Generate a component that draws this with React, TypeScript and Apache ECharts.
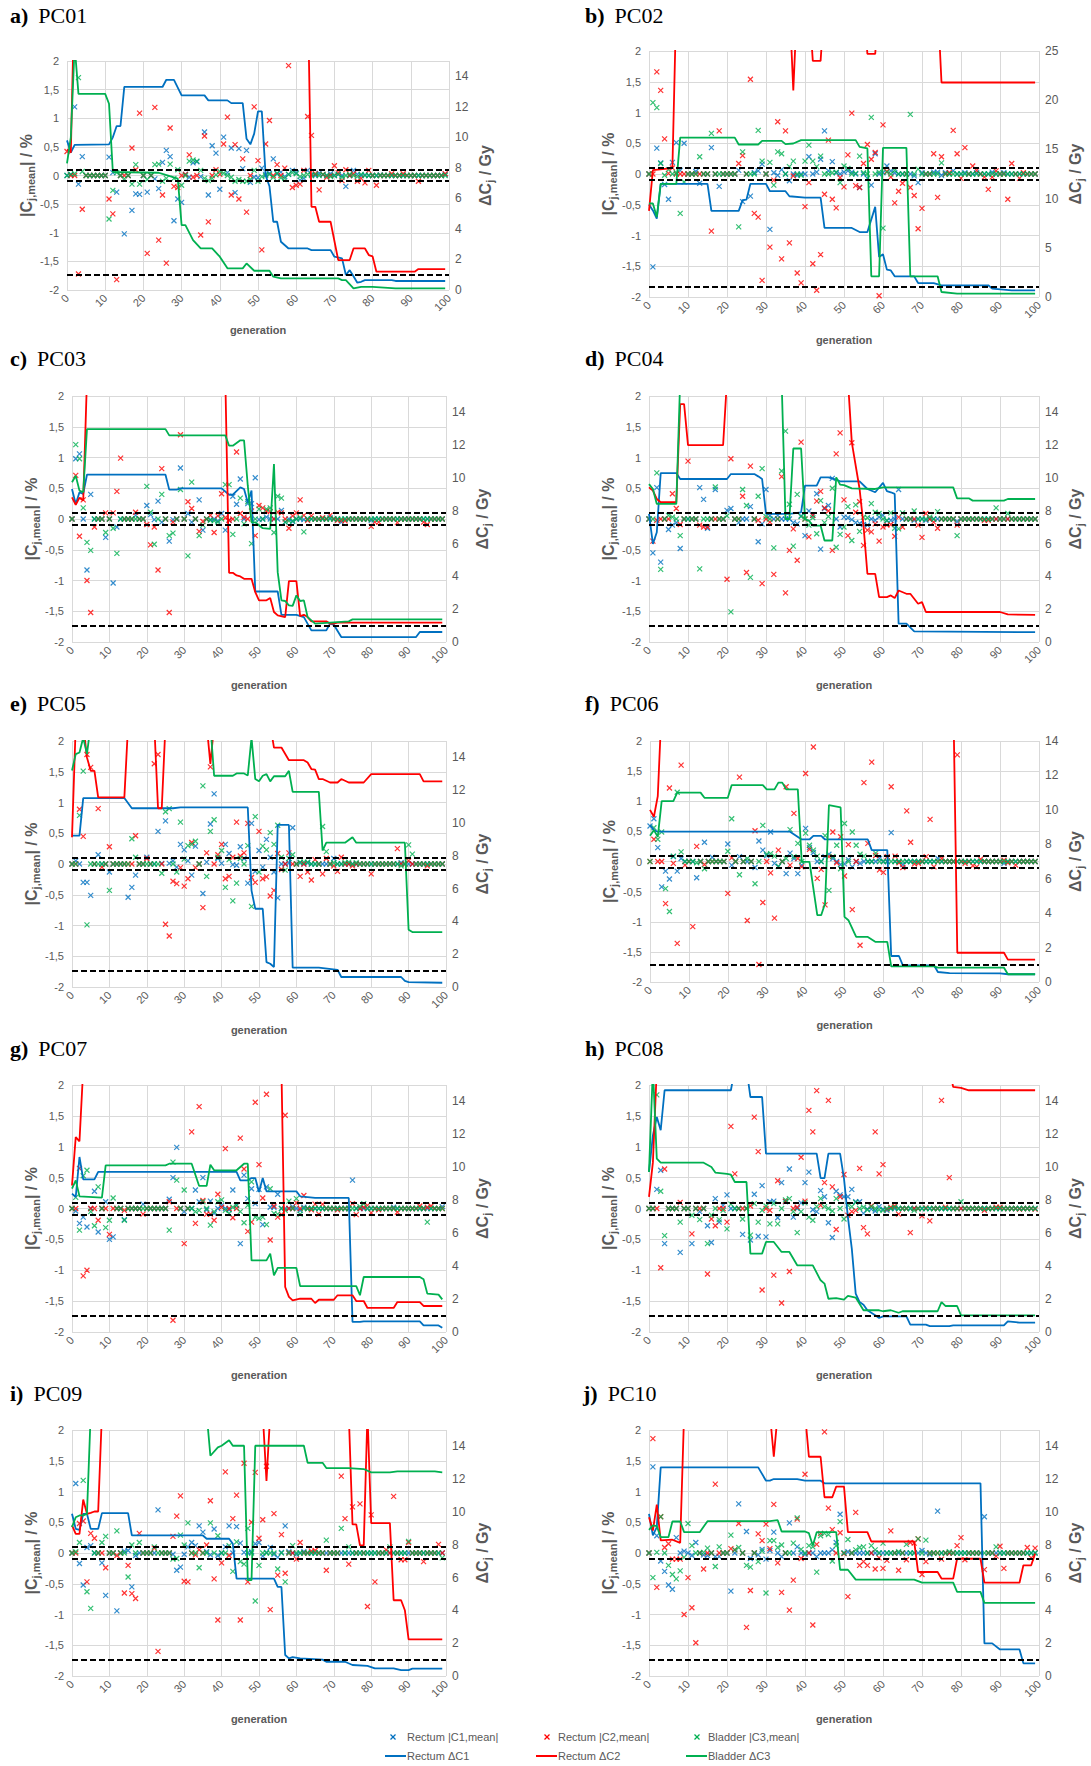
import React, { useEffect, useRef } from 'react';
import * as echarts from 'echarts';

// ---------- colours ----------
const BLUE = '#0070C0';
const RED = '#FF0000';
const GREEN = '#00B050';
const GREY = '#595959';

// ---------- threshold values ----------
const limitsPercent = [0.1, -0.1];
const limitGy = 1;

// ---------- x tick labels ----------
const generationTicks = [0, 10, 20, 30, 40, 50, 60, 70, 80, 90, 100];

// ================= PC01 =================
const pc01C1 = [0,0.02,1.2,-0.15,0.33,0,0,0,0,0, 0,0.32,0.05,-0.29,0,-1.02,0,-0.61,-0.32,-0.33, 0,-0.29,0,-0.06,-0.23,0.23,0.44,0.33,-0.79,-0.41, -0.47,0.02,-0.03,0.22,0.24,-0.02,0.76,-0.34,0.52,0.39, -0.24,0.67,0.05,0.48,-0.3,0.47,0.12,0.44,-0.12,-0.03, -0.04,0.13,0.02,0.04,0.29,0.03,0.06,-0.02,0.02,0.09, 0.05,-0.08,-0.05,0.09,0.02,0,0.04,0.01,0,0.03, 0,0.02,0,-0.19,0,0.09,0.02,0,0.01,0, 0,0,0.01,0,0,0,0,0,0,0, 0,0,0,0,0,0,0,0,0,0.02];
const pc01C2 = [0.42,0,0,-1.72,-0.59,0,0,0,0,0, 0,-0.41,-0.67,-1.82,0,0,0,0.48,0.1,1.09, 0,-1.36,0,1.19,-1.13,-0.34,-1.53,0.83,-0.19,-0.21, 0,0.02,0.36,-0.03,0,-1.04,0.69,-0.81,0,0.1, 0.02,0.55,1.02,-0.34,0.54,-0.41,0.29,-0.64,0,1.2, 0.26,-1.3,0.55,0.96,0,0.19,0,0.13,1.92,-0.21, -0.17,-0.15,0.09,1.03,0.7,0.03,-0.25,0.02,-0.03,0, 0.17,0.05,-0.09,0.1,0,0.03,-0.1,-0.05,-0.13,0.09, 0,-0.17,0,0,0,0.03,0,0,0.03,0, 0,0,-0.1,0,0,0,0,0,0,0.03];
const pc01C3 = [0,0.02,0.03,1.71,0.07,0,0,0,0,0, 0,-0.76,-0.26,0.05,0,-0.06,0,-0.15,0.19,-0.15, 0,-0.07,0,0.19,0.2,-0.1,-0.05,0.2,-0.05,0.1, -0.17,0,0.25,0.27,0.25,0.09,-0.05,-0.09,-0.05,0.01, 0.07,0.04,0,-0.03,-0.1,-0.07,-0.1,-0.1,-0.07,0.09, -0.1,-0.02,0,0.02,-0.03,0.04,-0.04,-0.05,0.02,0.05, 0.03,-0.02,0,0.02,0,0.02,0,0.02,0,-0.02, 0,0.02,-0.03,0,0.02,0,-0.02,0.02,0,0, 0,0,0,0,0,0,0,0,0,0, 0,0,0,0,0,0,0,0,0,0];
const pc01D1 = [[0,9.8],[1,9.0],[2,9.5],[11,9.54],[12,10.0],[13,10.74],[14,10.74],[15,13.3],[25,13.3],[26,13.77],[28,13.77],[30,12.75],[36,12.75],[37,12.42],[42,12.42],[43,12.24],[46,12.24],[47,9.9],[48,9.54],[49,10.24],[50,11.7],[51,11.7],[52,7.5],[53,6.8],[54,4.47],[55,4.47],[56,3.16],[58,2.72],[63,2.72],[64,2.61],[69,2.61],[70,2.18],[72,2.07],[73,0.98],[74,1.3],[75,0.9],[76,0.48],[77,0.54],[78,0.65],[85,0.65],[86,0.59],[99,0.59]];
const pc01D2 = [[0,9.2],[1,9.0],[2,20],[63,20],[64,5.45],[65,5.45],[66,4.47],[69,4.47],[71,1.96],[74,1.96],[75,2.72],[78,2.72],[79,2.29],[80,2.2],[81,1.2],[91,1.2],[92,1.37],[99,1.37]];
const pc01D3 = [[0,8.3],[1,10],[2,16],[3,12.85],[10,12.85],[11,12.2],[12,7.73],[24,7.68],[25,7.6],[29,7.3],[30,4.25],[31,4.25],[33,3.27],[35,2.72],[38,2.72],[40,2.18],[42,1.42],[46,1.42],[47,1.74],[49,1.26],[53,1.26],[54,0.87],[56,0.76],[71,0.76],[72,0.65],[73,0.65],[75,0.1],[77,0.2],[80,0.2],[83,0.15],[86,0.1],[99,0.1]];

// ================= PC02 =================
const pc02C1 = [0,-1.51,0.42,0.18,-0.17,-0.41,0.19,0.51,0.06,0.5, 0,0,0.04,-0.15,0,0,0.43,0,-0.2,0, 0,0,0,0.06,-0.45,0,-0.36,0.02,0.05,0.16, 0,-0.9,0.02,-0.02,0.07,0,-0.11,0,-0.02,0, 0,0.28,0,0.03,0.24,0.7,0.05,0.2,0.02,0, 0.03,0.05,0.03,0,-0.22,0,-0.07,-0.18,0.33,0, 0.02,0.13,0.05,0.02,0,0,0,0,-0.03,-0.14, 0.02,0,0,0.03,0.03,-0.02,0.02,0,0.05,0, 0,0.02,0,0,0.02,0,0,0,0.03,0, 0,0.02,0,0,0,0,0,0,0,0];
const pc02C2 = [0,0,1.66,1.36,0.57,0.01,0.1,0,0,0, 0,0,0,0,0,0,-0.93,0,0.7,0, 0,0,0,0.17,0.3,0,1.54,-0.64,-0.7,-1.73, 0,-1.19,-0.1,0.85,-1.38,0.7,-1.12,-0.03,-1.61,-1.77, -0.53,-0.14,-1.46,-1.89,-1.31,-0.33,0.55,-0.41,-0.55,-0.06, -0.21,0.31,0.99,-0.19,-0.22,0.17,0.48,0.24,0.35,-1.98, 0.8,0.04,-0.05,-0.47,-0.28,-0.15,0,-0.22,-0.35,-0.89, -0.56,0,0,0.33,-0.38,0.28,0,0.02,0.71,0.33, -0.07,0.43,0,0.13,0.06,0,-0.05,-0.25,-0.05,0.05, 0,0,-0.41,0.17,0,-0.07,0.02,0,0,0];
const pc02C3 = [0,1.16,1.08,0.17,-0.02,0.07,0,0.02,-0.64,-0.13, 0,0,0,0.28,0,0,0.66,0,0,0, 0,0,0,-0.86,0.36,0,0,0,0.71,0.21, 0,0.19,-0.18,0.36,0.33,0,0.12,0.21,0,-0.02, 0.21,0.47,0.21,0.12,0.29,0,0,0.02,0.03,-0.14, 0.13,0.09,0,0.01,0.29,0.02,0,0.92,0,0.03, -0.88,0.03,0,0.06,0,0,0,0.97,0,0.08, 0,0,0,0,0,0.18,0,0,0,0, 0,0,0,0,0,0,0,0,0,0, 0,0,0,0,0,0,0,0,0,0];
const pc02D1 = [[0,9.4],[1,8.8],[2,7.97],[3,11.5],[15,11.5],[16,8.75],[23,8.75],[24,9.84],[25,9.9],[26,11.5],[30,11.5],[31,10.75],[35,10.75],[36,10.24],[40,10.1],[44,10.1],[45,7.02],[52,7.02],[54,6.6],[56,6.6],[58,9.16],[59,4.07],[60,4.34],[61,2.78],[62,2.7],[63,2.1],[68,2.1],[69,1.42],[73,1.42],[75,1.19],[87,1.19],[88,0.85],[93,0.68],[99,0.68]];
const pc02D2 = [[0,8.75],[1,12.9],[6,13.1],[7,30],[36,30],[37,21],[38,30],[41,30],[42,24],[44,24],[45,30],[55,30],[56,24.7],[58,24.7],[59,30],[74,30],[75,21.8],[99,21.8]];
const pc02D3 = [[0,9.5],[1,9.5],[2,8.14],[3,11.5],[7,11.5],[8,16.2],[22,16.2],[23,15.5],[28,15.5],[29,15.87],[34,15.87],[35,15.54],[37,15.6],[39,15.94],[53,15.94],[54,15.26],[56,15.1],[57,2.1],[59,2.1],[60,15.16],[66,15.16],[67,2.1],[74,2.1],[75,0.51],[79,0.34],[99,0.34]];

// ================= PC03 =================
const pc03C1 = [0,0.98,1.06,0,-0.83,0.4,0,0,0,-0.3, 0,-1.04,-0.13,0,0,0,0,0.06,0,0, 0.22,0.07,-0.01,0.29,-0.05,0,-0.36,-0.01,0,0.83, 0,0.09,-0.05,0,0.31,-0.18,0,-0.01,0,-0.03, 0.09,-0.18,-0.02,0.37,0.24,0.65,0,0.25,0.25,0.67, -0.01,0,0.03,0,0,0,0.14,-0.05,0,-0.04, 0,0,-0.01,0,0,0,0,0,0,0.02, 0,0,-0.05,0,0,0,0,0,0,0, -0.02,0,0,0,0,0,0,0,0,0, 0,0,0,0,0,0,0,0,0,0];
const pc03C2 = [0,0.71,-0.28,0.31,-1.0,-1.52,-0.13,0,0,0.1, 0,0.1,0.45,0.99,0,0,0,0.11,0,0, -0.09,-0.42,-0.13,-0.83,0.82,0,-1.52,-0.05,0,1.37, 0,0.28,0.17,0,-0.2,-0.04,0,0.06,-0.22,0.05, 0.41,0.02,-0.02,0,1.09,0.09,0.03,0,0.13,-0.27, 0.22,0.18,0.13,0.12,0,0.11,0.1,0,-0.15,0.05, 0.1,0.31,0.06,-0.02,0.05,0,0,0.02,0,0.06, 0,-0.02,-0.02,-0.03,0,0,0,0,0,0, -0.12,-0.05,-0.05,0,0,0,0,-0.06,0,0, 0,0,0,0,-0.05,-0.09,0,0,0,0];
const pc03C3 = [0,1.21,0.98,0.18,-0.38,-0.51,0,0,0,-0.22, 0,-0.15,-0.56,0,0,0,0,0,0,0, 0.53,0.11,-0.41,0,0.4,0,-0.27,-0.23,0,0.48, 0,-0.6,0.6,0,-0.27,-0.1,0,-0.02,-0.03,-0.05, 0,0.56,0.56,-0.25,0,0.34,-0.08,0.28,-0.4,0, 0.16,0,0.16,0.18,-0.22,0.37,0.34,-0.05,-0.03,-0.03, 0,0.02,-0.21,0,0,0,0,0,0,0, 0,0,0,0,0,0,0,0,0,0, 0,0,0,0,0,0,0,0,0,0, 0,0,0,0,0,0,0,0,0,0];
const pc03D1 = [[0,9.33],[1,8.42],[2,9.13],[3,9.03],[4,10.2],[25,10.2],[26,9.29],[28,9.29],[29,9.37],[40,9.37],[42,8.98],[43,8.98],[45,9.43],[46,9.33],[47,8.5],[48,9.23],[49,3.08],[55,3.08],[56,1.66],[60,1.66],[62,1.52],[64,0.71],[68,0.71],[69,1.12],[70,1.05],[72,0.3],[92,0.3],[93,0.61],[99,0.61]];
const pc03D2 = [[0,8.82],[1,8.36],[2,8.8],[3,8.62],[4,16],[41,16],[42,4.22],[43,4.22],[44,4.06],[45,4.0],[46,3.85],[48,3.85],[49,3.04],[50,2.54],[52,2.54],[53,2.68],[54,1.83],[55,1.62],[57,1.52],[58,3.71],[60,3.71],[61,1.58],[62,1.66],[63,1.52],[64,1.26],[68,1.26],[69,1.12],[70,1.12],[71,1.18],[99,1.18]];
const pc03D3 = [[0,9.74],[1,10.14],[2,9.23],[3,9.13],[4,12.98],[25,12.98],[26,12.6],[41,12.6],[42,11.97],[43,11.97],[45,12.3],[46,12.3],[47,9.53],[48,7.3],[49,7.3],[51,6.94],[53,6.9],[54,10.85],[55,4.26],[56,2.54],[57,2.5],[58,2.23],[59,2.2],[60,2.84],[61,2.5],[62,2.54],[63,1.52],[65,1.12],[70,1.2],[74,1.26],[75,1.38],[99,1.38]];

// ================= PC04 =================
const pc04C1 = [0,-0.55,0.51,-0.7,0,-0.17,-0.1,-0.06,-0.48,0, 0,0,0,0.51,0.32,-0.15,0,0.48,0,0, 0.14,0.17,0,-0.06,0,0,0.2,0,-0.37,-0.08, 0.48,0.05,0,0.06,0,0,0,-0.06,-0.08,0.05, -0.27,0.13,0.06,0.41,-0.49,0.17,0.22,0.66,0,-0.13, 0.03,0.02,-0.01,-0.06,-0.07,-0.09,-0.1,0,-0.02,0.03, 0.06,-0.03,-0.02,0,0.48,0,0,0,-0.02,0, 0,-0.02,0,0,0,0,0,0,0,-0.04, 0,0,0,0,0,0,0,0,0,0, 0,0,0,0,0,0,0,0,0,0];
const pc04C2 = [0,-0.36,-0.02,0,0,0,0.41,0.17,-0.09,0, 0.94,0,0,-0.1,-0.13,-0.13,0,0,0,0, -0.98,0.98,0,0,0.37,-0.87,0.86,0,-0.02,-1.05, 0,-0.05,-0.9,0,0.69,-1.2,-0.51,-0.16,-0.67,1.25, 0,-0.29,0.06,0.29,0.45,0.18,0.13,-0.51,1.06,1.4, 0.31,-0.27,1.24,0.11,0.28,-0.43,-0.18,-0.21,-0.08,-0.36, -0.13,-0.1,-0.09,-0.28,0.03,-0.13,0,0,0,-0.1, -0.3,0.09,0,-0.05,-0.15,0,0,0,0,-0.1, 0,0,0,0,0,0,-0.02,-0.02,0,0, 0,0,0,0,0,0,0,0,0,0];
const pc04C3 = [0,0,0.75,-0.82,0,0.06,0.03,0,-0.27,0, 0,0,0,-0.81,0,0,0,0.52,0,0, 0.05,-1.51,0,0,0.48,0.22,-0.95,0,0.37,0.82, 0.04,0,-0.47,0,0.78,1.43,0.24,-0.44,0.4,0.04, 0,-0.1,0.02,-0.24,0.3,-0.06,0.04,0.5,-0.46,-0.25, -0.13,0.2,-0.35,0.23,-0.2,0.03,0.02,0.25,0.11,0.09, 0,-0.02,0.1,-0.15,-0.16,0.1,0,0,0.13,0, 0,0,0.03,0,0.12,0,0,0,0,-0.27, 0,0,0,0,0,0,0,0,0,0.18, 0,0,0.09,0,0,0,0,0,0,0];
const pc04D1 = [[0,7.81],[1,5.98],[2,6.69],[3,10.3],[7,10.3],[8,9.94],[20,9.94],[21,10.24],[27,10.24],[28,10.1],[29,9.94],[30,7.81],[36,7.81],[39,7.9],[40,9.53],[43,9.53],[44,10.04],[46,10.04],[48,9.9],[49,9.8],[54,9.8],[56,9.33],[58,9.13],[60,9.7],[61,9.2],[62,9.13],[63,9.03],[64,1.12],[66,1.12],[68,0.65],[99,0.6]];
const pc04D2 = [[0,9.43],[1,9.23],[2,8.72],[3,8.52],[7,8.52],[8,14.5],[9,14.5],[10,12.0],[19,12.0],[20,16],[51,16],[52,12.17],[54,9.33],[55,7.1],[56,4.16],[58,4.16],[59,2.74],[61,2.74],[62,2.84],[63,2.68],[64,3.14],[66,2.94],[67,2.94],[69,2.33],[70,2.43],[71,1.83],[90,1.83],[92,1.68],[99,1.66]];
const pc04D3 = [[0,9.63],[1,9.33],[2,8.42],[7,8.42],[8,16],[34,16],[35,7.5],[36,7.5],[37,11.8],[39,11.8],[40,7.5],[41,7.4],[42,7.1],[44,7.1],[45,6.19],[47,6.19],[48,10.04],[49,9.6],[50,9.57],[52,9.37],[58,9.33],[60,9.43],[78,9.43],[79,8.76],[82,8.76],[83,8.62],[91,8.62],[92,8.72],[99,8.72]];

// ================= PC05 =================
const pc05C1 = [0,0.05,0,-0.3,-0.3,-0.51,0,0.15,0,0, -0.13,0,0,0,0,-0.54,-0.38,-0.18,0,0, 0.11,0,0,0.53,0.01,0.7,0.01,0.05,-0.05,0.32, 0.23,0.05,-0.18,0.29,0,-0.48,0.03,0.65,1.14,0.09, 0.01,0.32,0.17,-0.01,-0.02,0.28,0.09,-0.31,0.66,-0.12, 0.22,-0.05,0.4,0.11,-0.13,-0.55,0,0,0.02,0.59, 0,0.02,0,0.02,0,0,0,0,0,0, 0.09,0,0,0,0,0,0,0,0,0, 0,0,0,0,0,0,0,0,0.02,0, 0,0,0,0,0,0,0,0,0,0];
const pc05C2 = [0,0,0.89,0.45,1.78,1.57,0,0.9,-0.05,0, 0.28,0,0,0,0,0,0,0.46,0,0, 0.09,0,1.63,1.78,0,-0.98,-1.17,-0.28,-0.32,-0.06, -0.36,-0.24,0.35,-0.06,0,-0.71,0.18,1.58,0,0.15, 0.32,-0.24,-0.2,0.11,0.68,0.13,0.18,0.66,-0.22,-0.3, 0.53,-0.24,-0.21,-0.52,-0.43,0.17,-0.09,0,0.18,0, 0,-0.2,0,-0.13,-0.26,0.07,0,-0.16,0.09,0, -0.03,-0.12,0.11,0,0,-0.03,0,0,0,0, -0.16,0,0,0,0,0,0,0.25,0,0, 0.05,0,0,0,0,-0.03,0,0,0,0];
const pc05C3 = [0,0,0.79,1.51,-0.99,0,0,0,0,0, -0.43,0,0,0,0,0,0.41,0.11,0,0, 0,0,0,0,-0.15,0.85,0.9,0,-0.13,0.68, 0.08,0.3,0.32,0.37,0,1.27,-0.2,0.53,0.72,0.11, 0.22,-0.38,0.07,-0.6,-0.31,0.09,0,0.3,-0.69,0.77, -0.13,0.29,0.23,0.51,0.32,0.63,0.11,-0.1,0.09,0.15, 0,0.03,0.03,0.03,0,0,0,0.61,0.2,0, 0.02,0,0,0.02,0.03,0,0.02,0,0,0, 0,0,0,0,0,0,0,0,-0.03,0, 0.31,0.16,0,0,0,0,0,0,0,0];
const pc05D1 = [[0,9.23],[2,9.23],[3,11.52],[14,11.52],[16,10.9],[27,10.9],[29,10.95],[47,10.95],[48,5.88],[49,4.77],[51,4.77],[52,1.52],[53,1.42],[54,1.22],[55,9.88],[58,9.88],[59,1.18],[66,1.18],[71,1.05],[72,0.61],[88,0.61],[89,0.37],[90,0.3],[99,0.26]];
const pc05D2 = [[0,9.13],[1,16],[3,16],[4,14.0],[5,13.18],[6,13.18],[7,11.56],[14,11.56],[15,16],[22,16],[23,10.9],[24,10.9],[25,16],[36,16],[37,13.6],[38,16],[53,16],[54,14.6],[56,14.6],[58,13.83],[62,13.83],[63,13.69],[64,13.29],[65,13.25],[66,12.68],[67,12.68],[69,12.47],[71,12.47],[72,12.68],[74,12.47],[78,12.47],[80,12.98],[93,12.98],[94,12.54],[99,12.54]];
const pc05D3 = [[0,13.2],[1,14.2],[2,14.3],[3,15.2],[4,14.2],[5,16],[37,16],[38,12.88],[43,12.88],[44,13.02],[46,13.02],[47,12.9],[48,15.2],[49,12.68],[50,12.54],[51,12.88],[52,12.98],[53,12.54],[54,12.85],[57,12.85],[58,13.18],[59,11.9],[66,11.9],[67,8.32],[68,8.8],[73,8.8],[75,9.13],[76,8.8],[89,8.8],[90,3.49],[91,3.35],[99,3.35]];

// ================= PC06 =================
const pc06C1 = [0.59,0.71,0.23,-0.42,-0.16,-0.29,0.08,-0.16,0.05,0, 0,0,-0.27,0,0.32,0,0.07,0,0,0, 0.29,-0.06,0,0.08,0,0,0,-0.1,0.34,0.19, 0.1,0.49,-0.03,-0.08,0,-0.2,0.14,0.05,-0.2,-0.06, 0.55,0.23,0.15,0,0,0.08,0.12,0.05,0,-0.05, -0.04,0.03,-0.09,0,-0.03,0,0,0,0,0.05, 0,0,0.48,0,0,-0.05,0,0,0,0, 0,0,0,0,0.05,0,0,0,0,0, 0,0,0,0,0,0,0,0,0,0, 0,-0.03,0,0,0,0,0,0,0,0];
const pc06C2 = [0,0.37,0,0,-0.7,1.22,-0.03,-1.36,1.6,-0.06, 0,-1.08,0.25,0,-0.05,0,0,0,0,0, -0.53,0.06,0,1.4,0,-0.98,0,0.51,-1.71,-0.68, 0,-0.19,-0.94,0.19,0,1.24,-0.06,0.8,0.05,-0.09, 1.46,0.2,1.9,-0.28,-0.13,-0.72,0.08,0.49,-0.02,0.41, -0.24,0.28,-0.8,0,-1.39,1.31,0.3,1.65,0.1,-0.14, -0.18,0.08,1.24,0.09,-0.02,-0.1,0.84,0.32,-0.04,-0.03, 0,0.08,0.7,-0.09,0,0.05,0,0,0,1.77, 0,-0.03,0,-0.07,-0.09,0.04,0,0,0,0, 0,0.02,-0.02,0,-0.06,0,0,0,0,0];
const pc06C3 = [0,0.56,0.37,0.49,-0.45,-0.83,0.09,1.15,0.16,0, 0,0,-0.02,0,-0.12,0,0,0,0,0, 0.17,0.71,0,-0.22,0,0.05,0,-0.37,0,0.6, 0.12,0.13,0.09,-0.08,0,0.05,0.53,0.08,0.3,0, 0.47,0.27,0.19,0.09,0,0.43,-0.48,0.08,0.27,-0.12, 0.63,0,0.49,0.27,0.12,0.09,0,0,0.14,0, 0,0,0,0,0,0,0,0,0,0, 0,0,0,0,0,0,0,0,0,0, 0,0,0,0,0,0,0,0,0,0, 0,0,0,0,0,0,0,0,0,0];
const pc06D1 = [[0,9.11],[1,8.82],[2,8.73],[36,8.73],[39,8.28],[41,8.28],[42,8.49],[44,8.49],[45,8.28],[56,8.28],[57,7.66],[61,7.66],[62,1.51],[64,1.51],[65,0.97],[73,0.97],[74,0.58],[77,0.52],[90,0.5],[92,0.45],[99,0.45]];
const pc06D2 = [[0,10],[1,9.6],[2,10.8],[3,16],[78,16],[79,1.7],[91,1.7],[92,1.3],[99,1.3]];
const pc06D3 = [[0,8.49],[1,8.82],[2,8.43],[3,10.51],[6,10.51],[7,11.0],[13,11.0],[14,10.7],[20,10.7],[21,11.44],[29,11.44],[30,11.19],[32,11.19],[33,11.58],[34,11.58],[35,11.19],[38,11.19],[39,6.98],[41,6.98],[43,3.88],[44,3.88],[45,4.56],[46,10.28],[49,10.14],[50,3.78],[51,3.59],[53,2.62],[56,2.62],[58,2.33],[61,2.33],[62,0.91],[73,0.91],[74,0.83],[91,0.83],[92,0.45],[99,0.45]];

// ================= PC07 =================
const pc07C1 = [0,-0.04,-0.24,-0.14,-0.3,0,0.28,-0.38,0,0.11, -0.5,-0.46,0,0,-0.18,0,0,0,0,0.07, 0,0,0,0,0,0,0.15,0.5,0.99,0, -0.05,0,0,0.3,0.11,0.5,-0.02,0.12,-0.08,0, 0.05,0,-0.02,0.3,0.05,-0.57,0.54,0.16,0.32,0.08, 0.31,-0.26,0.35,0.02,0.02,0.23,0,0,0,0.03, 0,-0.03,0.02,0,0,0,0,0,0,0, 0,0,0,0,0,0.46,0,0,0,0, 0,0,0,0,0,0,0.02,0,0,0, 0,0,0,0,0,0,0,0,0,0.03];
const pc07C2 = [0,0,0.65,-1.09,-1.0,0,0,-0.19,0,0, -0.42,0,0,0,-0.03,0,0,0,0,-0.09, 0,0,0,0,0,0,0.11,-1.81,0,0, -0.57,0,1.24,-0.24,1.65,0.13,-0.09,-0.09,-0.19,0.23, 0.02,0.97,0,-0.15,0,1.14,0.64,-0.37,-0.22,1.72, 0.71,0.17,1.85,-0.51,0.04,-0.14,-0.1,1.51,0,0, 0.09,0,0.21,0,-0.02,0.07,-0.09,0.07,0,0, 0,-0.02,0,0,0,0.08,-0.1,0,0.02,0.05, -0.07,0,-0.02,0,0,0,0,-0.06,0,0, 0,0,0,0.04,0,0.02,0.04,0,0,0];
const pc07C3 = [0,0.18,-0.35,0.53,0.62,-0.05,-0.28,0.35,0,-0.31, -0.19,0.17,0,0,-0.19,0,0,0,0,0, 0,0,0,0,0,0,-0.35,0.75,0.46,0, 0.3,0,0,-0.05,-0.03,0.11,0,-0.27,-0.05,0.11, 0.14,-0.03,-0.08,0.02,0.05,-0.05,-0.23,0.05,0.43,-0.14, -0.16,-0.14,-0.26,0.32,-0.08,-0.09,0,-0.03,0.12,0, 0.16,-0.09,0,0,0,0,0,0,0,0, 0,0,0,0,0,0,0,0.03,0.08,0, 0,0,0,0,0,0,0,0,0,0, 0,0,0,0,0,-0.22,0,0,0,0];
const pc07D1 = [[0,8.4],[1,8.2],[2,10.63],[3,9.27],[6,9.27],[7,9.72],[44,9.72],[45,9.21],[47,9.21],[48,9.35],[49,9.35],[50,8.5],[51,9.35],[52,8.54],[60,8.54],[61,8.24],[65,8.14],[74,8.14],[75,0.61],[77,0.61],[78,0.65],[93,0.65],[94,0.4],[98,0.4],[99,0.26]];
const pc07D2 = [[0,8.9],[1,11.84],[2,11.58],[3,16],[56,16],[57,2.73],[58,2.13],[59,1.92],[61,2.02],[64,2.02],[65,1.76],[66,1.96],[70,1.96],[71,2.23],[75,2.23],[76,1.88],[78,1.88],[79,1.46],[86,1.46],[87,1.82],[93,1.82],[94,1.58],[99,1.58]];
const pc07D3 = [[0,8.7],[1,9.21],[2,8.24],[8,8.16],[9,10.12],[25,10.12],[26,10.22],[32,10.22],[34,8.87],[36,8.87],[37,10.16],[38,9.82],[44,9.82],[46,10.22],[47,10.22],[48,4.35],[52,4.35],[53,4.76],[54,3.44],[55,3.89],[60,3.89],[61,2.79],[76,2.79],[77,2.23],[78,3.34],[93,3.34],[94,3.2],[95,2.33],[98,2.27],[99,1.98]];

// ================= PC08 =================
const pc08C1 = [0,0,0.31,0.62,-0.57,0,0,0,-0.71,0, 0,-0.57,0,-0.05,0,-0.28,-0.55,0.16,-0.22,0.05, 0.22,0,0,0,-0.42,0,-0.51,0.23,-0.45,0.37, -0.46,0.11,0.12,-0.15,0.42,0.11,0.64,-0.14,0,0.09, 0.42,0.59,-0.02,-0.05,0.29,0.19,-0.23,-0.47,0.28,0.22, 0.19,0.19,0.31,0.11,0.11,-0.08,-0.01,-0.01,-0.04,0.03, -0.01,-0.03,0,0,0,0,0,0,0,0, 0,0,0,0,0,0,0,0,0,0, 0,0,0,0,0,0,0,0,0,0, 0,0,0,0,0,0,0,0,0,0];
const pc08C2 = [0,0,0,-0.96,0.64,0,0,0,0.1,0, 0,-0.41,0,0,0,-1.06,-0.17,-0.28,0,0, -0.22,1.33,0.56,0,0,0,0.04,1.48,0.92,-1.32, 0,-0.03,-1.08,0.45,-1.53,0.12,-1.02,0,0.02,0.83, 0.12,1.59,1.24,1.91,0.05,0.42,1.75,0.35,-0.34,0.19, 0.55,-0.11,-0.05,-0.03,0.65,-0.31,-0.41,0.04,1.24,0.56, 0.71,-0.01,0.02,0.04,-0.09,0,0,-0.39,0,0, -0.12,0.01,-0.2,0,0,1.75,0.02,0.5,0,0, 0,0,0,0,0,0,-0.03,0,0,0.02, 0.02,0,0,0,0,-0.01,0,0,0,-0.01];
const pc08C3 = [0,0,1.84,0.28,-0.44,0,0,0,-0.22,0, 0,-0.11,0,-0.18,0,-0.57,-0.11,0,-0.18,-0.03, -0.33,0.07,0,0,-0.17,0,-0.43,0.08,-0.22,-0.03, 0.04,-0.25,0.08,-0.25,0,0.14,0.16,-0.05,-0.39,-0.05, 0.09,-0.14,-0.19,0.03,0.16,0.03,0,-0.04,0.16,0, -0.17,0.05,0.03,0.1,0,0.02,-0.02,0.03,0,-0.02, -0.03,0,0,0.02,0,0,0,0,-0.03,0, 0,0,0,0,0,0,0,0,0,0, 0.11,0,0,0,0,0,0,0,0,0, 0,0,0,0,0,0,0,0,0,0];
const pc08D1 = [[0,9.72],[1,11.94],[2,13.06],[3,12.25],[4,14.68],[21,14.68],[22,16],[25,16],[26,14.27],[29,14.27],[30,10.83],[43,10.83],[44,9.35],[45,9.35],[46,10.83],[49,10.83],[50,9.31],[51,6.98],[52,5.06],[53,2.33],[54,1.82],[55,1.66],[56,1.32],[58,1.01],[59,0.85],[60,0.95],[66,0.95],[67,0.45],[71,0.45],[72,0.36],[77,0.36],[78,0.4],[91,0.4],[92,0.65],[95,0.57],[99,0.57]];
const pc08D2 = [[0,8.2],[1,10.3],[2,16],[77,16],[78,14.88],[80,14.82],[82,14.68],[99,14.68]];
const pc08D3 = [[0,9.72],[1,16],[2,10.53],[3,10.28],[14,10.28],[16,10.02],[17,9.68],[20,9.6],[21,9.55],[22,9.11],[25,9.11],[26,4.76],[29,4.76],[30,5.47],[32,5.47],[34,4.86],[36,4.86],[38,4.05],[42,4.05],[44,3.14],[45,2.94],[46,2.02],[48,2.06],[50,1.96],[51,2.19],[53,2.09],[55,1.32],[59,1.32],[60,1.26],[62,1.32],[64,1.17],[65,1.26],[74,1.26],[75,1.82],[76,1.58],[79,1.58],[80,1.01],[99,1.01]];

// ================= PC09 =================
const pc09C1 = [0,1.13,-0.17,-0.52,0.09,0.12,0,0,-0.16,-0.69, 0,0,-0.94,0,0.03,0.04,-0.55,-0.04,0,0, 0,0,0,0.7,0,0,0,-0.02,-0.28,-0.23, -0.02,0.1,0.17,0.12,0.44,0.34,0.02,-0.03,0.39,-0.04, 0,0.1,0.44,0,0.43,0.16,0.01,0,0.02,0.15, 0.17,-0.05,0.01,0.09,-0.02,-0.07,0.01,0.44,0.02,0, -0.02,0,0.02,0,0,0,0,0,0,0, 0,0,0,0,0,0,0,0,0,0, 0,0,0,0,0,0,0,0,0,0, 0,0,0,0,0,0,0,0,0,0];
const pc09C2 = [0,0,0.48,0.52,-0.47,0.32,0.24,0,0,-0.24, 0,0,-0.04,0,-0.65,-0.2,-0.66,-0.74,0.32,0, 0,0,0.08,-1.6,0,0,0,0.27,0.6,0.93, -0.46,-0.47,0,-0.03,0.05,0,0.13,0.85,-0.42,-1.09, -0.16,1.32,-0.04,0.56,0.94,-1.09,1.46,-0.47,0.5,1.31, 0.24,0.54,1.41,-0.92,0.64,-0.36,0.3,-0.33,0,0, -0.1,0.17,0,0,0.03,0.04,0,0,-0.28,0, 0,0,1.25,0.56,-0.18,0.75,0,0.8,0,-0.87, 0.62,-0.47,0,0,0.05,0,0.92,0,-0.11,-0.11, 0.17,0,0,0,-0.14,0,0,0,0.14,0];
const pc09C3 = [0,0.02,0.17,1.18,-0.63,-0.9,0,0,0.17,0.27, 0,0,0.36,0,0,-0.39,0.13,0,0.17,0, 0,0,0.1,0,0,0,0,-0.1,-0.09,0.29, 0.13,0.49,0,0,-0.24,0,0,0.49,0,0.28, 0,0,0.12,-0.3,0.18,-0.14,-0.18,0.4,0,-0.78, -0.2,0,0,0,0,-0.26,0,-0.47,0,0.12, 0,0,0,0,0,0,0,0,0.21,0, 0,0,0.4,0,0.1,0,0,0,0,0, 0,0,0,0,0,0.1,0,0,0,0, 0.19,0,0,0,0,0,0,0,0,-0.08];
const pc09D1 = [[0,9.89],[1,8.97],[2,8.91],[3,9.89],[4,9.89],[5,8.97],[7,8.97],[8,9.93],[15,9.93],[16,8.57],[35,8.57],[36,8.37],[42,8.37],[43,8.06],[44,5.94],[54,5.94],[55,5.43],[56,5.43],[57,1.28],[58,1.07],[59,1.15],[61,1.07],[67,1.0],[68,0.87],[73,0.87],[75,0.67],[79,0.62],[81,0.47],[86,0.47],[88,0.36],[90,0.36],[91,0.45],[99,0.45]];
const pc09D2 = [[0,9.18],[1,8.67],[2,8.67],[3,10.76],[4,9.89],[5,9.95],[6,10.03],[7,10.03],[8,16],[51,16],[52,11.9],[53,16],[74,16],[75,9.24],[76,9.24],[77,7.96],[78,7.96],[79,16],[80,9.32],[85,9.32],[86,4.62],[88,4.62],[89,4.01],[90,2.23],[99,2.23]];
const pc09D3 = [[0,9.08],[1,9.68],[2,9.79],[3,9.79],[4,9.89],[5,16],[36,16],[37,13.43],[39,13.94],[40,14.04],[42,14.38],[43,14.04],[46,14.04],[47,5.84],[48,5.84],[49,14.04],[62,14.04],[63,13.0],[67,13.0],[68,12.68],[74,12.68],[78,12.62],[80,12.42],[85,12.42],[87,12.48],[97,12.48],[99,12.42]];

// ================= PC10 =================
const pc10C1 = [0,1.4,0.28,-0.13,-0.3,-0.52,-0.59,0.25,0,0.03, 0,-0.04,0.17,0,-0.03,-0.04,0,-0.06,-0.06,0, 0,-0.62,0,0.8,0,0.35,-0.09,0,-0.03,0.06, -0.1,0.04,0.34,0,-0.06,0,0.49,0,0.1,0, -0.02,0,0,-0.06,0,0,0,0.05,0.17,0.63, 0,0.02,0,0,0,0,0,0,0,0, 0,0,0,0,0,0,0,0,0,0, 0.04,0,-0.02,0,0.68,0,0,0,0,0, 0,0,0,0,0,0,0.59,0,0,0, 0,0,0,0,0,0,0,0,0,0];
const pc10C2 = [0,1.86,-0.56,0.59,0.09,0.15,-0.1,-0.1,-0.1,-1.0, -0.4,-0.89,-1.46,0,-0.26,0,0,1.12,0,0, 0,0.07,0.05,0.48,0,-1.21,-0.61,0,0.31,0.2, 0.47,0.07,0.79,-0.16,-0.64,0,-0.93,-0.44,0.55,-0.09, 1.28,0,-1.17,0.14,0.32,1.97,0.73,0.38,0,0.33, -0.01,-0.71,0,0.66,-0.2,-0.14,-0.2,0,-0.26,-0.08, -0.25,-0.12,0.36,0,-0.28,0,-0.11,0.17,0.16,0.23, -0.35,-0.14,0,0,0,-0.1,0,0,0,0.12, 0.25,-0.11,0,0,0,0,-0.27,0,0,-0.05, 0.11,-0.25,0,0,0,0,0,0.09,-0.08,0.08];
const pc10C3 = [0,-0.4,0.01,0.59,0,-0.2,-0.35,-0.42,-0.29,-0.07, 0.48,0.12,0,0,0.01,0.08,0,-0.22,0.1,0, 0,0.29,0.05,0.09,0,-0.2,-0.23,0,-0.14,0.03, -0.65,0.2,0.2,0.09,0.13,0,0,0.16,0.57,0.06, 0,0.12,0.1,-0.31,0.28,0.32,0.3,-0.13,0.12,0.51, 0,0.22,0,0.05,0.09,0.1,0,0.12,0.05,0, 0.16,0,0,0,0.02,0,0.14,0,0,0.23, 0,0.21,0,0,0,0,0,0.02,0,0, 0,0,0,0,0,0,0,0,0,0.1, 0,0,0,0,0,0,0,0,0,0];
const pc10D1 = [[0,9.89],[1,8.57],[2,9.08],[3,12.72],[28,12.72],[30,11.91],[31,11.91],[32,12.01],[38,12.01],[40,11.91],[44,11.91],[45,11.75],[85,11.75],[86,1.99],[88,1.99],[90,1.62],[95,1.62],[96,0.77],[99,0.77]];
const pc10D2 = [[0,9.68],[1,8.87],[2,10.45],[3,8.27],[6,8.31],[8,8.12],[9,16],[31,16],[32,13.37],[33,16],[40,16],[41,13.37],[44,13.37],[45,10.9],[47,10.9],[48,11.55],[50,11.55],[51,8.77],[56,8.77],[57,8.2],[68,8.2],[69,6.34],[74,6.34],[75,5.94],[78,5.94],[79,7.15],[85,7.15],[86,5.69],[95,5.69],[96,6.75],[98,6.75],[99,7.46]];
const pc10D3 = [[0,8.91],[1,9.18],[2,9.14],[3,8.47],[5,8.47],[6,9.42],[8,9.42],[9,8.77],[13,8.77],[15,9.44],[31,9.44],[33,9.5],[34,8.81],[40,8.81],[41,8.71],[42,7.96],[43,8.77],[48,8.77],[49,6.48],[51,6.48],[53,5.88],[68,5.88],[70,5.69],[78,5.69],[79,5.13],[85,5.13],[86,4.46],[99,4.46]];

// ---------- panel table ----------
const panels = [
  { tag: 'a)', name: 'PC01', c: [pc01C1, pc01C2, pc01C3], d: [pc01D1, pc01D2, pc01D3], gyMax: 15, gyStep: 2, upper: true },
  { tag: 'b)', name: 'PC02', c: [pc02C1, pc02C2, pc02C3], d: [pc02D1, pc02D2, pc02D3], gyMax: 25, gyStep: 5, upper: true },
  { tag: 'c)', name: 'PC03', c: [pc03C1, pc03C2, pc03C3], d: [pc03D1, pc03D2, pc03D3], gyMax: 15, gyStep: 2, upper: true },
  { tag: 'd)', name: 'PC04', c: [pc04C1, pc04C2, pc04C3], d: [pc04D1, pc04D2, pc04D3], gyMax: 15, gyStep: 2, upper: true },
  { tag: 'e)', name: 'PC05', c: [pc05C1, pc05C2, pc05C3], d: [pc05D1, pc05D2, pc05D3], gyMax: 15, gyStep: 2, upper: true },
  { tag: 'f)', name: 'PC06', c: [pc06C1, pc06C2, pc06C3], d: [pc06D1, pc06D2, pc06D3], gyMax: 14, gyStep: 2, upper: true },
  { tag: 'g)', name: 'PC07', c: [pc07C1, pc07C2, pc07C3], d: [pc07D1, pc07D2, pc07D3], gyMax: 15, gyStep: 2, upper: true },
  { tag: 'h)', name: 'PC08', c: [pc08C1, pc08C2, pc08C3], d: [pc08D1, pc08D2, pc08D3], gyMax: 15, gyStep: 2, upper: true },
  { tag: 'i)', name: 'PC09', c: [pc09C1, pc09C2, pc09C3], d: [pc09D1, pc09D2, pc09D3], gyMax: 15, gyStep: 2, upper: true },
  { tag: 'j)', name: 'PC10', c: [pc10C1, pc10C2, pc10C3], d: [pc10D1, pc10D2, pc10D3], gyMax: 15, gyStep: 2, upper: false },
];

const scatterNames = ['Rectum |C1,mean|', 'Rectum |C2,mean|', 'Bladder |C3,mean|'];
const lineNames = ['Rectum ΔC1', 'Rectum ΔC2', 'Bladder ΔC3'];
const colors = [BLUE, RED, GREEN];

// ---------- layout (pixels) ----------
const boxes = [
  { left: 67, top: 61, width: 382, height: 229, lg: 25, rg: 26, xg: 34 },
  { left: 649, top: 51, width: 390, height: 246, lg: 31, rg: 26, xg: 37 },
  { left: 72, top: 396, width: 374, height: 246, lg: 29, rg: 26, xg: 37 },
  { left: 649, top: 396, width: 390, height: 246, lg: 31, rg: 26, xg: 37 },
  { left: 72, top: 741, width: 374, height: 246, lg: 29, rg: 26, xg: 37 },
  { left: 650, top: 741, width: 389, height: 241, lg: 31, rg: 26, xg: 37 },
  { left: 72, top: 1085, width: 374, height: 247, lg: 29, rg: 26, xg: 37 },
  { left: 649, top: 1085, width: 390, height: 247, lg: 31, rg: 26, xg: 37 },
  { left: 72, top: 1430, width: 374, height: 246, lg: 29, rg: 26, xg: 37 },
  { left: 649, top: 1430, width: 390, height: 246, lg: 31, rg: 26, xg: 37 },
];
const titlePos = [
  [10, 15], [585, 15], [10, 358], [585, 358], [10, 703],
  [585, 703], [10, 1048], [585, 1048], [10, 1393], [583, 1393],
];

const SANS = 'Liberation Sans, Arial, sans-serif';
const SERIF = 'Liberation Serif, Times New Roman, serif';
const CROSS = 'path://M0,0L10,10M10,0L0,10';

function comma(v: number) {
  return String(v).replace('.', ',');
}

const nameRich = {
  b: { fontSize: 16, fontWeight: 'bold', color: GREY, fontFamily: SANS, lineHeight: 20, verticalAlign: 'middle' },
  s: { fontSize: 11, fontWeight: 'bold', color: GREY, fontFamily: SANS, lineHeight: 11, verticalAlign: 'bottom' },
};

function buildOption() {
  const grid: any[] = [];
  const xAxis: any[] = [];
  const yAxis: any[] = [];
  const series: any[] = [];
  const graphic: any[] = [];

  panels.forEach((p, i) => {
    const b = boxes[i];
    grid.push({ left: b.left, top: b.top, width: b.width, height: b.height });
    xAxis.push({
      gridIndex: i, type: 'value', min: generationTicks[0], max: generationTicks[generationTicks.length - 1], interval: 10,
      splitLine: { show: true, lineStyle: { color: '#d9d9d9', width: 1 } },
      axisLine: { show: false }, axisTick: { show: false },
      axisLabel: { rotate: 45, color: GREY, fontSize: 11, fontFamily: SANS, margin: 6 },
      name: 'generation', nameLocation: 'middle', nameGap: b.xg,
      nameTextStyle: { color: GREY, fontWeight: 'bold', fontSize: 11, fontFamily: SANS },
    });
    yAxis.push({
      gridIndex: i, type: 'value', position: 'left', min: -2, max: 2, interval: 0.5,
      splitLine: { show: true, lineStyle: { color: '#d9d9d9', width: 1 } },
      axisLine: { show: false }, axisTick: { show: false },
      axisLabel: { color: GREY, fontSize: 11, fontFamily: SANS, margin: 8, formatter: (v: number) => comma(v) },
      name: '{b||C}{s|j,mean}{b|| / %}', nameLocation: 'middle', nameGap: b.lg,
      nameTextStyle: { color: GREY, fontFamily: SANS, rich: nameRich },
    });
    yAxis.push({
      gridIndex: i, type: 'value', position: 'right', min: 0, max: p.gyMax, interval: p.gyStep,
      splitLine: { show: false }, axisLine: { show: false }, axisTick: { show: false },
      axisLabel: { color: GREY, fontSize: 12, fontFamily: SANS, margin: 6, showMaxLabel: p.gyMax % p.gyStep === 0, formatter: (v: number) => comma(v) },
      name: '{b|ΔC}{s|j}{b| / Gy}', nameLocation: 'middle', nameGap: b.rg,
      nameTextStyle: { color: GREY, fontFamily: SANS, rich: nameRich },
    });

    p.c.forEach((arr, k) => {
      const s: any = {
        type: 'scatter', name: scatterNames[k], xAxisIndex: i, yAxisIndex: 2 * i,
        data: arr.map((v, g) => [g, v]),
        symbol: CROSS, symbolSize: 5,
        itemStyle: { color: colors[k], borderColor: colors[k], borderWidth: 1.2 },
        z: 2, silent: true,
      };
      if (k === 0) {
        s.markLine = {
          silent: true, symbol: 'none', label: { show: false },
          lineStyle: { color: '#000', type: [6, 3], width: 1.8 },
          data: limitsPercent.filter((l) => p.upper || l < 0).map((l) => ({ yAxis: l })),
        };
      }
      series.push(s);
    });
    p.d.forEach((arr, k) => {
      const s: any = {
        type: 'line', name: lineNames[k], xAxisIndex: i, yAxisIndex: 2 * i + 1,
        data: arr, showSymbol: false, symbol: 'none', clip: true,
        lineStyle: { color: colors[k], width: 1.8 }, itemStyle: { color: colors[k] },
        z: 3, silent: true,
      };
      if (k === 0) {
        s.markLine = {
          silent: true, symbol: 'none', label: { show: false },
          lineStyle: { color: '#000', type: [6, 3], width: 1.8 },
          data: [{ yAxis: limitGy }],
        };
      }
      series.push(s);
    });

    graphic.push({
      type: 'text', x: titlePos[i][0], y: titlePos[i][1],
      style: {
        text: `{b|${p.tag}}${p.name}`, fontFamily: SERIF, fontSize: 22, fill: '#000',
        verticalAlign: 'middle', align: 'left',
        rich: { b: { fontFamily: SERIF, fontSize: 22, fontWeight: 'bold', fill: '#000', padding: [0, 10, 0, 0] } },
      },
    });
  });

  // legend
  const legendX = [[393, 407], [547, 558], [697, 708]];
  const row1 = 1737;
  const row2 = 1756;
  legendX.forEach(([mx, tx], k) => {
    graphic.push({
      type: 'group', children: [
        { type: 'line', shape: { x1: mx - 2.5, y1: row1 - 2.5, x2: mx + 2.5, y2: row1 + 2.5 }, style: { stroke: colors[k], lineWidth: 1.2 } },
        { type: 'line', shape: { x1: mx + 2.5, y1: row1 - 2.5, x2: mx - 2.5, y2: row1 + 2.5 }, style: { stroke: colors[k], lineWidth: 1.2 } },
      ],
    });
    graphic.push({ type: 'text', x: tx, y: row1, style: { text: scatterNames[k], fill: GREY, fontSize: 11, fontFamily: SANS, verticalAlign: 'middle' } });
    graphic.push({ type: 'line', shape: { x1: tx - 22, y1: row2, x2: tx - 1, y2: row2 }, style: { stroke: colors[k], lineWidth: 2 } });
    graphic.push({ type: 'text', x: tx, y: row2, style: { text: lineNames[k], fill: GREY, fontSize: 11, fontFamily: SANS, verticalAlign: 'middle' } });
  });

  return { animation: false, backgroundColor: '#fff', grid, xAxis, yAxis, series, graphic };
}

export default function App() {
  const ref = useRef<HTMLDivElement>(null);
  useEffect(() => {
    if (!ref.current) return;
    const chart = echarts.init(ref.current, undefined, { renderer: 'svg' });
    chart.setOption(buildOption() as any);
    return () => chart.dispose();
  }, []);
  return (
    <div
      ref={ref}
      style={{ position: 'absolute', left: 0, top: 0, width: 1091, height: 1766, background: '#fff' }}
    />
  );
}
